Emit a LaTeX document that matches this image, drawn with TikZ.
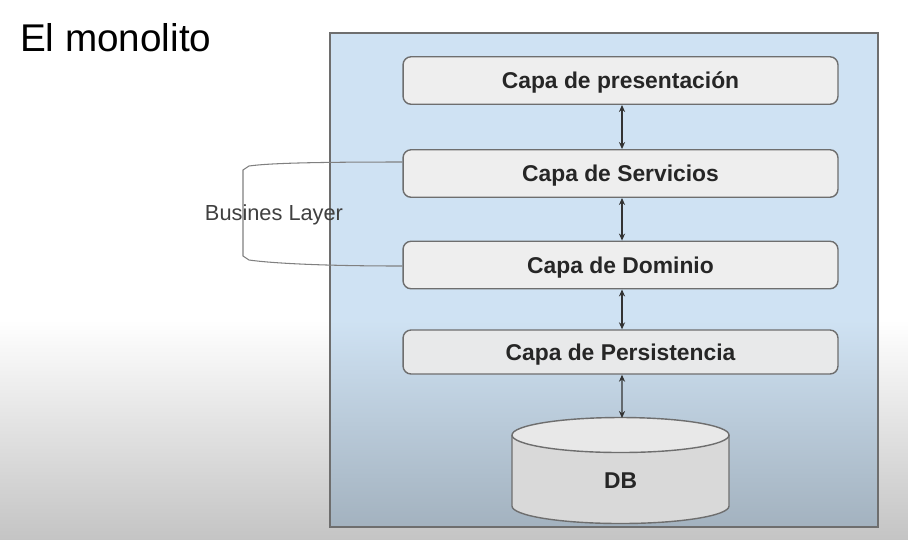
\documentclass[tikz,border=0pt]{standalone}
\usepackage{fontspec}
\setmainfont{Liberation Sans}
\usetikzlibrary{arrows.meta}
\definecolor{fondo}{HTML}{CFE2F3}
\definecolor{fondoosc}{HTML}{A3B2BF}
\definecolor{capa}{HTML}{EEEEEE}
\definecolor{borde}{HTML}{6E6E6E}
\tikzset{
  capa/.style={draw=borde, fill=capa, rounded corners=0.16cm, line width=0.8pt,
    minimum width=8.7cm, minimum height=0.95cm, text depth=0pt,
    font=\bfseries\fontsize{13}{15}\selectfont, text=black!85},
  flecha/.style={{Stealth[length=4pt,width=3.5pt]}-{Stealth[length=4pt,width=3.5pt]}, black!80, line width=0.6pt}
}
\begin{document}
\begin{tikzpicture}[x=0.02cm,y=-0.02cm]
  \useasboundingbox (0,0) rectangle (908,539);
  % Hintergrund
  \fill[white] (0,0) rectangle (908,539);
  \shade[top color=white, bottom color=black!23] (0,320) rectangle (908,539);
  % Contenedor
  \fill[fondo] (330,33) rectangle (878,320);
  \shade[top color=fondo, bottom color=fondoosc] (330,320) rectangle (878,527);
  \draw[borde, line width=1.2pt] (330,33) rectangle (878,527);
  % Titel
  \node[font=\fontsize{22}{26}\selectfont, anchor=west] (titulo) at (14,38) {El monolito};
  % Capas
  \node[capa] (pres) at (620.5,80.5) {Capa de presentación};
  \node[capa] (serv) at (620.5,173.5) {Capa de Servicios};
  \node[capa] (dom) at (620.5,265) {Capa de Dominio};
  \node[capa, minimum height=0.88cm, fill=capa!92!fondoosc] (pers) at (620.5,352) {Capa de Persistencia};
  % DB
  \draw[borde, line width=0.8pt, fill=black!15] (512,435) -- (512,506)
    arc[start angle=180, end angle=0, x radius=108.5, y radius=17.5] -- (729,435);
  \draw[borde, line width=0.8pt, fill=black!9] (620.5,435) ellipse [x radius=108.5, y radius=17.5];
  \coordinate (dbtop) at (622,418);
  \node[font=\bfseries\fontsize{13}{15}\selectfont, text=black!85] (db) at (620.5,481) {DB};
  % Pfeile
  \foreach \a/\b in {pres/serv,serv/dom,dom/pers}
    \draw[flecha] ([xshift=0.03cm]\a.south) -- ([xshift=0.03cm]\b.north);
  \draw[flecha] ([xshift=0.03cm]pers.south) -- (dbtop);
  % Klammer
  \draw[black!50, line width=0.6pt] (serv.west |- 0,162) .. controls (320,162) and (270,163) .. (249,166)
    -- (243,170) -- (243,256) -- (249,260) .. controls (270,263) and (320,266) .. (dom.west |- 0,266);
  \node[font=\fontsize{12.4}{14}\selectfont, text=black!75] (negocio) at (274,215) {Busines Layer};
\end{tikzpicture}
\end{document}
